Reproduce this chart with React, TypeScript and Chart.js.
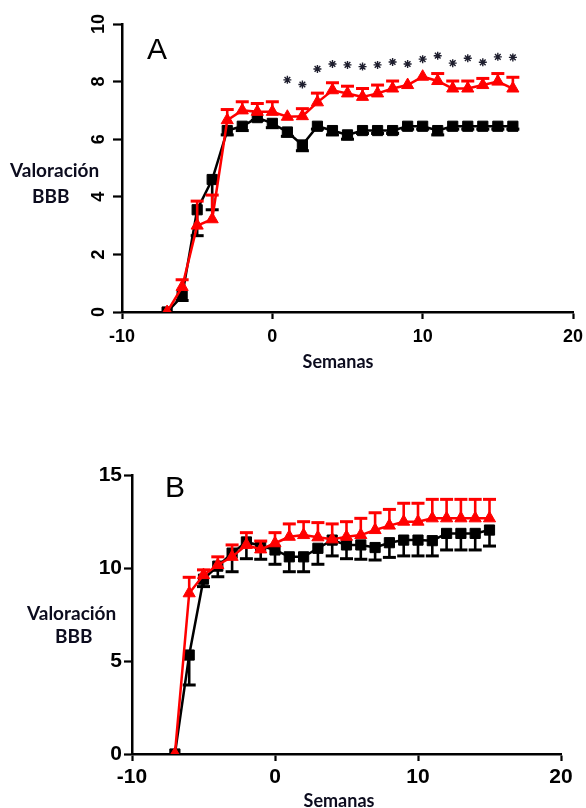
import React, { useEffect, useRef } from "react";
import { Chart, registerables } from "chart.js";

Chart.register(...registerables);

// ---------------- Panel A data ----------------
const weeksA = [-7, -6, -5, -4, -3, -2, -1, 0, 1, 2, 3, 4, 5, 6, 7, 8, 9, 10, 11, 12, 13, 14, 15, 16];
const treatedA = [0, 0.87, 3.0, 3.22, 6.66, 7.0, 6.95, 6.95, 6.78, 6.8, 7.28, 7.7, 7.59, 7.47, 7.59, 7.76, 7.88, 8.17, 8.02, 7.76, 7.76, 7.88, 8.0, 7.76];
const treatedAErrUp = [0, 0.25, 0.85, 0.84, 0.37, 0.3, 0.29, 0.35, 0, 0.26, 0.32, 0.26, 0.25, 0.29, 0.29, 0.26, 0, 0, 0.26, 0.26, 0.26, 0.23, 0.28, 0.39];
const controlA = [0, 0.55, 3.55, 4.6, 6.3, 6.45, 6.75, 6.55, 6.25, 5.8, 6.45, 6.3, 6.15, 6.3, 6.3, 6.3, 6.45, 6.45, 6.3, 6.45, 6.45, 6.45, 6.45, 6.45];
const controlAErrDown = [0, 0.15, 0.9, 1.05, 0.15, 0.15, 0.1, 0.15, 0.15, 0.2, 0.1, 0.15, 0.15, 0.1, 0.1, 0.1, 0.1, 0.1, 0.15, 0.1, 0.1, 0.1, 0.1, 0.1];
const starWeeksA = [1, 2, 3, 4, 5, 6, 7, 8, 9, 10, 11, 12, 13, 14, 15, 16];
const starValuesA = [8.06, 7.9, 8.44, 8.61, 8.58, 8.52, 8.58, 8.68, 8.61, 8.78, 8.9, 8.64, 8.81, 8.67, 8.86, 8.84];
const yTicksA = [0, 2, 4, 6, 8, 10];

// ---------------- Panel B data ----------------
const weeksB = [-7, -6, -5, -4, -3, -2, -1, 0, 1, 2, 3, 4, 5, 6, 7, 8, 9, 10, 11, 12, 13, 14, 15];
const treatedB = [0, 8.64, 9.62, 10.16, 10.6, 11.24, 11.0, 11.33, 11.68, 11.77, 11.65, 11.54, 11.68, 11.77, 12.04, 12.28, 12.49, 12.49, 12.67, 12.67, 12.67, 12.67, 12.67];
const treatedBErrUp = [0, 0.86, 0.28, 0.44, 0.64, 0.66, 0.45, 0.57, 0.69, 0.72, 0.79, 0.83, 0.81, 0.9, 0.93, 0.87, 0.99, 0.99, 1.02, 1.02, 1.02, 1.02, 1.02];
const controlB = [0, 5.32, 9.4, 10.1, 10.8, 11.4, 11.2, 10.97, 10.6, 10.6, 11.06, 11.5, 11.24, 11.24, 11.1, 11.36, 11.5, 11.5, 11.47, 11.86, 11.86, 11.86, 12.04];
const controlBErrDown = [0, 1.61, 0.4, 0.57, 1.0, 0.9, 0.73, 0.77, 0.8, 0.8, 0.86, 0.85, 0.74, 0.77, 0.67, 0.79, 0.85, 0.85, 0.82, 0.89, 0.89, 0.89, 0.86];
const yTicksB = [0, 5, 10, 15];

const xTicks = [-10, 0, 10, 20];
const xTitle = "Semanas";
const yTitleLines = ["Valoración", "BBB"];

const RED = "#ff0000";
const BLACK = "#000000";
const TITLE_COLOR = "#0c0c1e";
const TICK_FONT = '"Liberation Sans", Arial, sans-serif';
const TITLE_FONT = 'Lato, "Open Sans", sans-serif';

const errorBarPlugin = {
  id: "errorBars",
  afterDatasetDraw(chart: any, args: any) {
    const ds: any = chart.data.datasets[args.index];
    if (!ds.errUp && !ds.errDown) return;
    const ys = chart.scales.y;
    const ctx = chart.ctx;
    const capHalf = ds.capHalf || 6;
    ctx.save();
    ctx.strokeStyle = ds.borderColor;
    ctx.lineCap = "butt";
    args.meta.data.forEach((pt: any, i: number) => {
      const v = ds.data[i].y;
      const px = pt.x;
      const py = ys.getPixelForValue(v);
      const up = ds.errUp ? ds.errUp[i] : 0;
      const dn = ds.errDown ? ds.errDown[i] : 0;
      const draw = (e: number, sign: number) => {
        if (!e) return;
        const ty = ys.getPixelForValue(v + sign * e);
        ctx.lineWidth = 2.6;
        ctx.beginPath();
        ctx.moveTo(px, py);
        ctx.lineTo(px, ty);
        ctx.stroke();
        ctx.lineWidth = 3;
        ctx.beginPath();
        ctx.moveTo(px - capHalf, ty);
        ctx.lineTo(px + capHalf, ty);
        ctx.stroke();
      };
      draw(up, 1);
      draw(dn, -1);
    });
    ctx.restore();
  },
};

type Panel = {
  weeks: number[];
  treated: number[];
  treatedErrUp: number[];
  control: number[];
  controlErrDown: number[];
  starWeeks?: number[];
  starValues?: number[];
  yTicks: number[];
  yMax: number;
  width: number;
  height: number;
  padTop: number;
  padRight: number;
  yAxisWidth: number;
  xAxisHeight: number;
  tickSize: number;
  xTickPadding: number;
  yTickPadding: number;
  yTickLength: number;
  rotateY: boolean;
  yLabelX: number;
  letter: string;
  letterX: number;
  letterY: number;
  titleLines: { x: number; y: number }[];
  semX: number;
  semY: number;
};

function decorPlugin(p: Panel) {
  return {
    id: "decor",
    afterDraw(chart: any) {
      const ctx = chart.ctx;
      ctx.save();
      ctx.fillStyle = "#000";
      ctx.textAlign = "left";
      ctx.textBaseline = "alphabetic";
      ctx.font = `30px ${TICK_FONT}`;
      ctx.fillText(p.letter, p.letterX, p.letterY);

      ctx.fillStyle = TITLE_COLOR;
      ctx.font = `bold 19px ${TITLE_FONT}`;
      yTitleLines.forEach((t, i) => {
        ctx.fillText(t, p.titleLines[i].x, p.titleLines[i].y);
      });
      ctx.font = `bold 18px ${TITLE_FONT}`;
      ctx.textAlign = "center";
      ctx.fillText(xTitle, p.semX, p.semY);

      if (p.rotateY) {
        const ys = chart.scales.y;
        ctx.fillStyle = "#000";
        ctx.font = `bold ${p.tickSize}px ${TICK_FONT}`;
        ctx.textAlign = "center";
        ctx.textBaseline = "middle";
        ys.ticks.forEach((t: any) => {
          const py = ys.getPixelForValue(t.value);
          ctx.save();
          ctx.translate(p.yLabelX, py);
          ctx.rotate(-Math.PI / 2);
          ctx.fillText(String(t.value), 0, 1);
          ctx.restore();
        });
      }
      ctx.restore();
    },
  };
}

function buildConfig(p: Panel): any {
  const datasets: any[] = [
    {
      label: "treated",
      data: p.weeks.map((w, i) => ({ x: w, y: p.treated[i] })),
      borderColor: RED,
      backgroundColor: RED,
      borderWidth: 2.5,
      pointStyle: "triangle",
      pointRadius: 7,
      pointBorderWidth: 1,
      tension: 0,
      errUp: p.treatedErrUp,
      capHalf: 6.5,
    },
    {
      label: "control",
      data: p.weeks.map((w, i) => ({ x: w, y: p.control[i] })),
      borderColor: BLACK,
      backgroundColor: BLACK,
      borderWidth: 2.5,
      pointStyle: "rect",
      pointRadius: 7.2,
      pointBorderWidth: 1,
      tension: 0,
      errDown: p.controlErrDown,
      capHalf: 6.5,
    },
  ];
  if (p.starWeeks && p.starValues) {
    datasets.push({
      label: "sig",
      data: p.starWeeks.map((w, i) => ({ x: w, y: p.starValues![i] })),
      showLine: false,
      borderColor: "#1e1e2e",
      backgroundColor: "#1e1e2e",
      pointStyle: "star",
      pointRadius: 4,
      pointBorderWidth: 1.4,
    });
  }
  const tickFont = { family: TICK_FONT, size: p.tickSize, weight: "bold" as const };
  return {
    type: "line",
    data: { datasets },
    options: {
      animation: false,
      responsive: false,
      events: [],
      layout: { padding: { left: 0, top: p.padTop, right: p.padRight, bottom: 0 } },
      plugins: { legend: { display: false }, tooltip: { enabled: false } },
      scales: {
        x: {
          type: "linear",
          min: -10,
          max: 20,
          afterBuildTicks: (s: any) => {
            s.ticks = xTicks.map((v) => ({ value: v }));
          },
          ticks: { color: "#000", font: tickFont, padding: p.xTickPadding, maxRotation: 0 },
          grid: { drawOnChartArea: false, drawTicks: true, tickLength: 7, tickWidth: 2.2, tickColor: "#000" },
          border: { display: true, color: "#000", width: 2.5 },
          afterFit: (s: any) => {
            s.height = p.xAxisHeight;
            s.paddingLeft = 0;
            s.paddingRight = 0;
          },
        },
        y: {
          type: "linear",
          min: 0,
          max: p.yMax,
          afterBuildTicks: (s: any) => {
            s.ticks = p.yTicks.map((v) => ({ value: v }));
          },
          ticks: {
            color: p.rotateY ? "rgba(0,0,0,0)" : "#000",
            font: tickFont,
            padding: p.yTickPadding,
          },
          grid: { drawOnChartArea: false, drawTicks: true, tickLength: p.yTickLength, tickWidth: 2.2, tickColor: "#000" },
          border: { display: true, color: "#000", width: 2.5 },
          afterFit: (s: any) => {
            s.width = p.yAxisWidth;
            s.paddingTop = 0;
            s.paddingBottom = 0;
          },
        },
      },
    },
    plugins: [errorBarPlugin, decorPlugin(p)],
  };
}

// Layout (canvas-relative positions)
const panelA: Panel = {
  weeks: weeksA,
  treated: treatedA,
  treatedErrUp: treatedAErrUp,
  control: controlA,
  controlErrDown: controlAErrDown,
  starWeeks: starWeeksA,
  starValues: starValuesA,
  yTicks: yTicksA,
  yMax: 10,
  width: 586,
  height: 380,
  padTop: 24,
  padRight: 13,
  yAxisWidth: 122,
  xAxisHeight: 68,
  tickSize: 18,
  xTickPadding: 7,
  yTickPadding: 4,
  yTickLength: 9,
  rotateY: true,
  yLabelX: 98,
  letter: "A",
  letterX: 147,
  letterY: 59,
  titleLines: [
    { x: 10, y: 177 },
    { x: 32, y: 203 },
  ],
  semX: 338,
  semY: 368,
};

const panelB: Panel = {
  weeks: weeksB,
  treated: treatedB,
  treatedErrUp: treatedBErrUp,
  control: controlB,
  controlErrDown: controlBErrDown,
  yTicks: yTicksB,
  yMax: 15,
  width: 586,
  height: 348,
  padTop: 15,
  padRight: 25,
  yAxisWidth: 132,
  xAxisHeight: 54,
  tickSize: 21,
  xTickPadding: 4,
  yTickPadding: 2,
  yTickLength: 8,
  rotateY: false,
  yLabelX: 0,
  letter: "B",
  letterX: 165,
  letterY: 37,
  titleLines: [
    { x: 27, y: 160 },
    { x: 55, y: 183 },
  ],
  semX: 339,
  semY: 347,
};

function ChartPanel({ panel, top }: { panel: Panel; top: number }) {
  const ref = useRef<HTMLCanvasElement | null>(null);
  useEffect(() => {
    if (!ref.current) return;
    const chart = new Chart(ref.current, buildConfig(panel));
    return () => chart.destroy();
  }, [panel]);
  return (
    <canvas
      ref={ref}
      width={panel.width}
      height={panel.height}
      style={{ position: "absolute", left: 0, top, width: panel.width, height: panel.height, display: "block" }}
    />
  );
}

export default function App() {
  return (
    <div style={{ position: "absolute", left: 0, top: 0, width: 586, height: 808, background: "#fff", overflow: "hidden" }}>
      <ChartPanel panel={panelA} top={0} />
      <ChartPanel panel={panelB} top={460} />
    </div>
  );
}
